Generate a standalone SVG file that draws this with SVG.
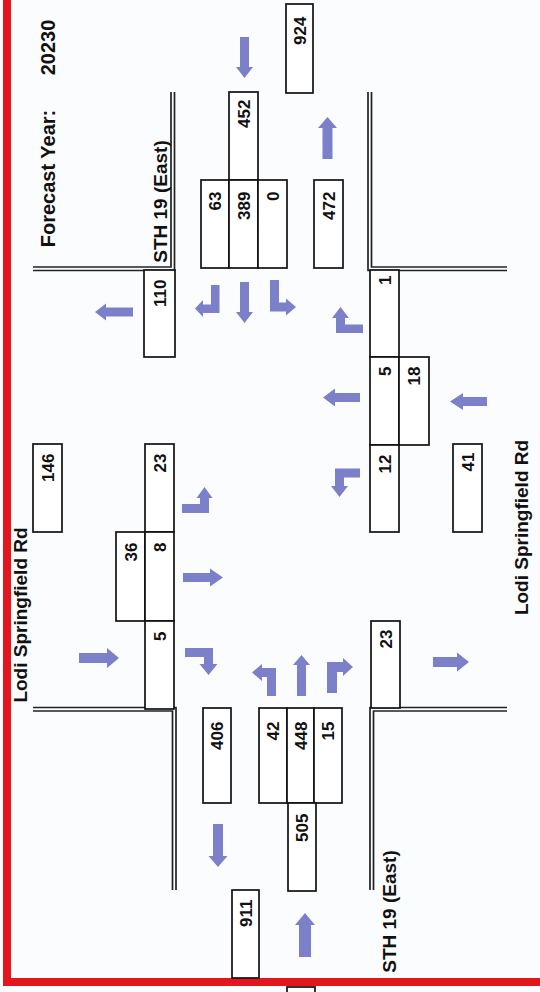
<svg xmlns="http://www.w3.org/2000/svg" width="540" height="992" viewBox="0 0 540 992">
<style>
.box{fill:#fff;stroke:#111;stroke-width:1.7}
.num{font-family:"Liberation Sans",Arial,sans-serif;font-weight:bold;font-size:17px;fill:#111;text-anchor:end}
.lbl{font-family:"Liberation Sans",Arial,sans-serif;font-weight:bold;font-size:19px;fill:#111;text-anchor:middle}
.arr{fill:#7b80c8}
.road{fill:none;stroke:#222;stroke-width:1.7}
.red{fill:#e3161e}
</style>
<rect x="0" y="0" width="540" height="992" fill="#fbfcfe"/>
<g id="border">
<rect class="red" x="3" y="0" width="8" height="986"/>
<rect class="red" x="3" y="978" width="537" height="8"/>
</g>
<g id="roads">
<path class="road" d="M33,267 H171 V92 M33,270.5 H174.5 V92"/>
<path class="road" d="M507,267 H371.5 V92 M507,270.5 H368 V92"/>
<path class="road" d="M33,707.5 H176 V890 M33,711 H172.5 V890"/>
<path class="road" d="M507,707.5 H370 V890 M507,711 H373.5 V890"/>
</g>
<g id="labels">
<text class="lbl" style="font-size:20px" transform="translate(55,178.5) rotate(-90)">Forecast Year:</text>
<text class="lbl" style="font-size:20px" transform="translate(55,47.5) rotate(-90)">20230</text>
<text class="lbl" transform="translate(167,201.5) rotate(-90)">STH 19 (East)</text>
<text class="lbl" transform="translate(396,911.5) rotate(-90)">STH 19 (East)</text>
<text class="lbl" transform="translate(27,615) rotate(-90)">Lodi Springfield Rd</text>
<text class="lbl" transform="translate(528,527.5) rotate(-90)">Lodi Springfield Rd</text>
</g>
<g id="node-924"><rect class="box" x="286" y="4" width="27" height="89"/><text class="num" transform="translate(305.7,16.5) rotate(-90)">924</text></g>
<g id="node-452"><rect class="box" x="229" y="92" width="29" height="88"/><text class="num" transform="translate(249.7,99.5) rotate(-90)">452</text></g>
<g id="node-63"><rect class="box" x="201" y="180" width="28" height="88"/><text class="num" transform="translate(221.2,191.5) rotate(-90)">63</text></g>
<g id="node-389"><rect class="box" x="229" y="180" width="29" height="88"/><text class="num" transform="translate(249.7,191.5) rotate(-90)">389</text></g>
<g id="node-0"><rect class="box" x="258" y="180" width="29" height="88"/><text class="num" transform="translate(278.7,191.5) rotate(-90)">0</text></g>
<g id="node-472"><rect class="box" x="314" y="180" width="29" height="88"/><text class="num" transform="translate(334.7,191.5) rotate(-90)">472</text></g>
<g id="node-110"><rect class="box" x="144" y="270" width="31" height="87"/><text class="num" transform="translate(165.7,279.5) rotate(-90)">110</text></g>
<g id="node-146"><rect class="box" x="33" y="444" width="29" height="88"/><text class="num" transform="translate(53.7,453.5) rotate(-90)">146</text></g>
<g id="node-23-left"><rect class="box" x="145" y="444" width="29" height="88"/><text class="num" transform="translate(165.7,453.5) rotate(-90)">23</text></g>
<g id="node-36"><rect class="box" x="116" y="532" width="29" height="89"/><text class="num" transform="translate(136.7,542.5) rotate(-90)">36</text></g>
<g id="node-8"><rect class="box" x="145" y="532" width="29" height="89"/><text class="num" transform="translate(165.7,542.5) rotate(-90)">8</text></g>
<g id="node-5-left"><rect class="box" x="145" y="621" width="29" height="88"/><text class="num" transform="translate(165.7,631.5) rotate(-90)">5</text></g>
<g id="node-1"><rect class="box" x="370" y="270" width="29" height="87"/><text class="num" transform="translate(390.7,275.5) rotate(-90)">1</text></g>
<g id="node-5-right"><rect class="box" x="370" y="357" width="29" height="88"/><text class="num" transform="translate(390.7,366.5) rotate(-90)">5</text></g>
<g id="node-18"><rect class="box" x="399" y="357" width="30" height="88"/><text class="num" transform="translate(420.2,366.5) rotate(-90)">18</text></g>
<g id="node-12"><rect class="box" x="370" y="445" width="29" height="87"/><text class="num" transform="translate(390.7,454.5) rotate(-90)">12</text></g>
<g id="node-41"><rect class="box" x="453" y="444" width="29" height="88"/><text class="num" transform="translate(473.7,452.5) rotate(-90)">41</text></g>
<g id="node-23-right"><rect class="box" x="371" y="621" width="29" height="87"/><text class="num" transform="translate(391.7,629.5) rotate(-90)">23</text></g>
<g id="node-406"><rect class="box" x="203" y="708" width="28" height="95"/><text class="num" transform="translate(223.2,721.5) rotate(-90)">406</text></g>
<g id="node-42"><rect class="box" x="259" y="708" width="28" height="95"/><text class="num" transform="translate(279.2,721.5) rotate(-90)">42</text></g>
<g id="node-448"><rect class="box" x="287" y="708" width="27" height="95"/><text class="num" transform="translate(306.7,721.5) rotate(-90)">448</text></g>
<g id="node-15"><rect class="box" x="314" y="708" width="28" height="95"/><text class="num" transform="translate(334.2,721.5) rotate(-90)">15</text></g>
<g id="node-505"><rect class="box" x="288" y="803" width="28" height="88"/><text class="num" transform="translate(308.2,813.5) rotate(-90)">505</text></g>
<g id="node-911"><rect class="box" x="232" y="890" width="27" height="88"/><text class="num" transform="translate(251.7,899.5) rotate(-90)">911</text></g>
<g id="node-fragment"><rect class="box" x="287" y="987" width="28" height="12"/></g>
<g id="connectors">
<path class="arr" d="M240,37 H249 V67 H253 L244.5,78 L236,67 H240 Z"/>
<path class="arr" d="M322.5,159 V128 H318 L327.5,117 L337,128 H332.5 V159 Z"/>
<path class="arr" d="M133,307.5 H106 V303.5 L95,312 L106,320.5 V316.5 H133 Z"/>
<path class="arr" d="M211,285 H219.5 V313 H203 V317 L195,308.5 L203,300 V304.5 H211 Z"/>
<path class="arr" d="M240,282 H249 V312 H253 L244.5,323 L236,312 H240 Z"/>
<path class="arr" d="M270,280 H279 V302.5 H286 V298.5 L296,307 L286,315.5 V311.5 H270 Z"/>
<path class="arr" d="M336,333 V318 H332 L340.5,307 L349,318 H345 V324.5 H363 V333 Z"/>
<path class="arr" d="M360,393 H335 V388.5 L323,397.5 L335,406.5 V402 H360 Z"/>
<path class="arr" d="M360,468.5 V477.5 H344 V486 H348 L339.5,497 L331,486 H335 V468.5 Z"/>
<path class="arr" d="M487,397 H463 V393 L450,401.5 L463,410 V406 H487 Z"/>
<path class="arr" d="M182,504 H200 V498 H196.5 L204.5,487 L212.5,498 H209 V513 H182 Z"/>
<path class="arr" d="M183,573 H210 V568.5 L223,577.5 L210,586.5 V582 H183 Z"/>
<path class="arr" d="M79,653 H107 V648 L119,658 L107,668 V663 H79 Z"/>
<path class="arr" d="M185,648 H213 V664 H217.5 L208.5,675 L199.5,664 H204 V657 H185 Z"/>
<path class="arr" d="M267,696 V677 H262 V681 L252,672.5 L262,664 V668 H276 V696 Z"/>
<path class="arr" d="M297,696 V665 H293 L301.5,655 L310,665 H306 V696 Z"/>
<path class="arr" d="M327,693 V662 H343 V658 L353,667 L343,676 V672 H337 V693 Z"/>
<path class="arr" d="M213,824 H223 V856 H227.5 L218,867 L208.5,856 H213 Z"/>
<path class="arr" d="M299,957 V925 H295 L305,913 L315,925 H311 V957 Z"/>
<path class="arr" d="M433,657 H457 V652.5 L469,662 L457,671.5 V667 H433 Z"/>
</g>
</svg>
